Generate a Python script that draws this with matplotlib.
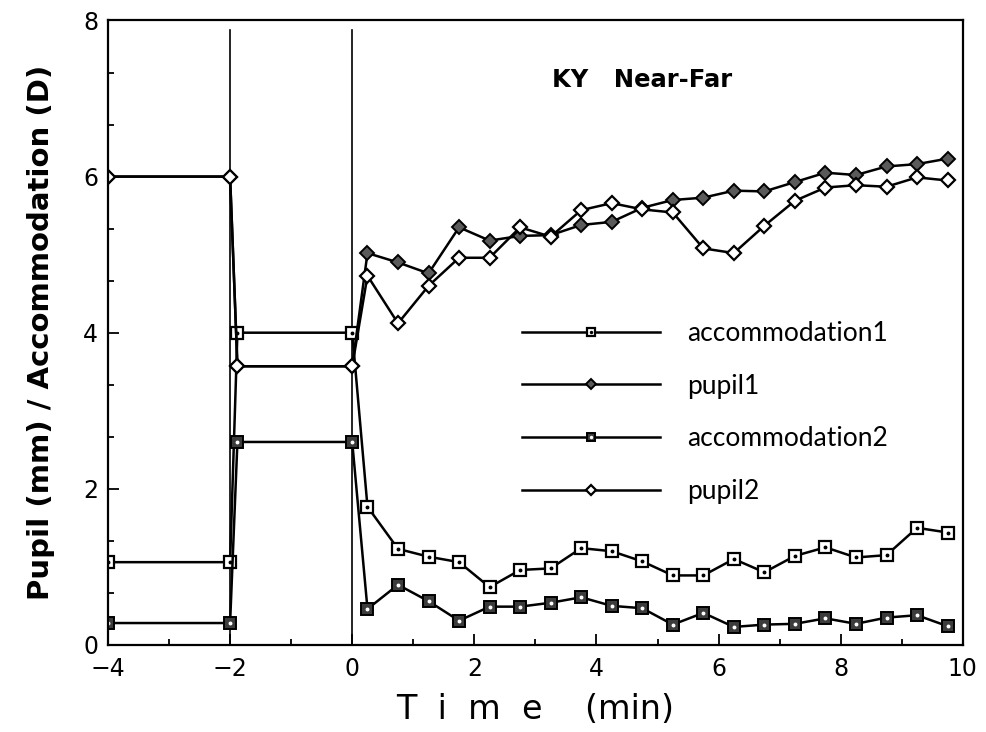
import numpy as np
import matplotlib
matplotlib.use("Agg")
import matplotlib.pyplot as plt
from matplotlib.ticker import MultipleLocator

# time points: baseline block, near block, then every 30 s after switching
t_pre = [-4, -2]
t_near = [-1.88, 0]
t_post = [0.25, 0.75, 1.25, 1.75, 2.25, 2.75, 3.25, 3.75, 4.25, 4.75,
          5.25, 5.75, 6.25, 6.75, 7.25, 7.75, 8.25, 8.75, 9.25, 9.75]

acc1 = [1.06, 1.06, 4.0, 4.0,
        1.77, 1.23, 1.13, 1.06, 0.74, 0.96, 0.98, 1.24, 1.20, 1.07,
        0.89, 0.89, 1.10, 0.93, 1.14, 1.25, 1.12, 1.15, 1.50, 1.44]
pupil1 = [6.0, 6.0, 3.57, 3.57,
          5.02, 4.90, 4.76, 5.35, 5.18, 5.24, 5.25, 5.38, 5.42, 5.60,
          5.70, 5.73, 5.82, 5.81, 5.93, 6.05, 6.02, 6.13, 6.16, 6.23]
acc2 = [0.28, 0.28, 2.6, 2.6,
        0.46, 0.77, 0.56, 0.31, 0.49, 0.49, 0.54, 0.61, 0.50, 0.47,
        0.26, 0.41, 0.23, 0.26, 0.27, 0.34, 0.27, 0.35, 0.38, 0.24]
pupil2 = [6.0, 6.0, 3.57, 3.57,
          4.73, 4.12, 4.60, 4.96, 4.96, 5.35, 5.23, 5.57, 5.66, 5.58,
          5.54, 5.08, 5.02, 5.37, 5.69, 5.86, 5.89, 5.87, 5.99, 5.95]

t = t_pre + t_near + t_post

fig = plt.figure(figsize=(9.86, 7.32), dpi=100)
ax = fig.add_axes([0.1095, 0.119, 0.867, 0.853])

ax.axvline(-2, ymax=0.985, color="black", lw=1.2)
ax.axvline(0, ymax=0.985, color="black", lw=1.2)

lw = 1.8
l_a1, = ax.plot(t, acc1, color="black", lw=lw, marker="s", ms=8,
                mfc="white", mec="black", mew=1.6)
d_a1, = ax.plot(t, acc1, ls="none", marker="o", ms=1.8, color="black")
l_p1, = ax.plot(t, pupil1, color="black", lw=lw, marker="D", ms=7,
                mfc="#5a5a5a", mec="black", mew=1.4)
l_a2, = ax.plot(t, acc2, color="black", lw=lw, marker="s", ms=8,
                mfc="#3c3c3c", mec="black", mew=1.4)
d_a2, = ax.plot(t, acc2, ls="none", marker="o", ms=1.8, color="white")
l_p2, = ax.plot(t, pupil2, color="black", lw=lw, marker="D", ms=7,
                mfc="white", mec="black", mew=1.6)

leg = ax.legend([(l_a1, d_a1), l_p1, (l_a2, d_a2), l_p2],
                ["accommodation1", "pupil1", "accommodation2", "pupil2"],
                loc="upper left", bbox_to_anchor=(0.457, 0.557),
                frameon=False, handlelength=5.2,
                handletextpad=1.05, labelspacing=1.05, markerscale=0.8,
                prop={"family": "Lato", "size": 19})

ax.text(0.625, 0.905, "KY   Near-Far", transform=ax.transAxes,
        ha="center", va="center", fontsize=17.5, fontweight="bold",
        family="DejaVu Sans")

ax.set_xlim(-4, 10)
ax.set_ylim(0, 8)
ax.xaxis.set_major_locator(MultipleLocator(2))
ax.xaxis.set_minor_locator(MultipleLocator(1))
ax.yaxis.set_major_locator(MultipleLocator(2))
ax.yaxis.set_minor_locator(MultipleLocator(2 / 3))
ax.tick_params(which="both", direction="in", top=False, right=False,
               width=1.3)
ax.tick_params(which="major", length=8, labelsize=17)
ax.tick_params(axis="x", which="major", pad=9)
ax.tick_params(axis="y", which="major", pad=7)
ax.tick_params(which="minor", length=4)
for s in ax.spines.values():
    s.set_linewidth(1.6)

ax.set_xlabel("T  i  m  e    (min)", fontsize=24, labelpad=8)
ax.set_ylabel("Pupil (mm) / Accommodation (D)", fontsize=21,
              fontweight="bold", labelpad=20)

fig.savefig("out.png", dpi=100)
